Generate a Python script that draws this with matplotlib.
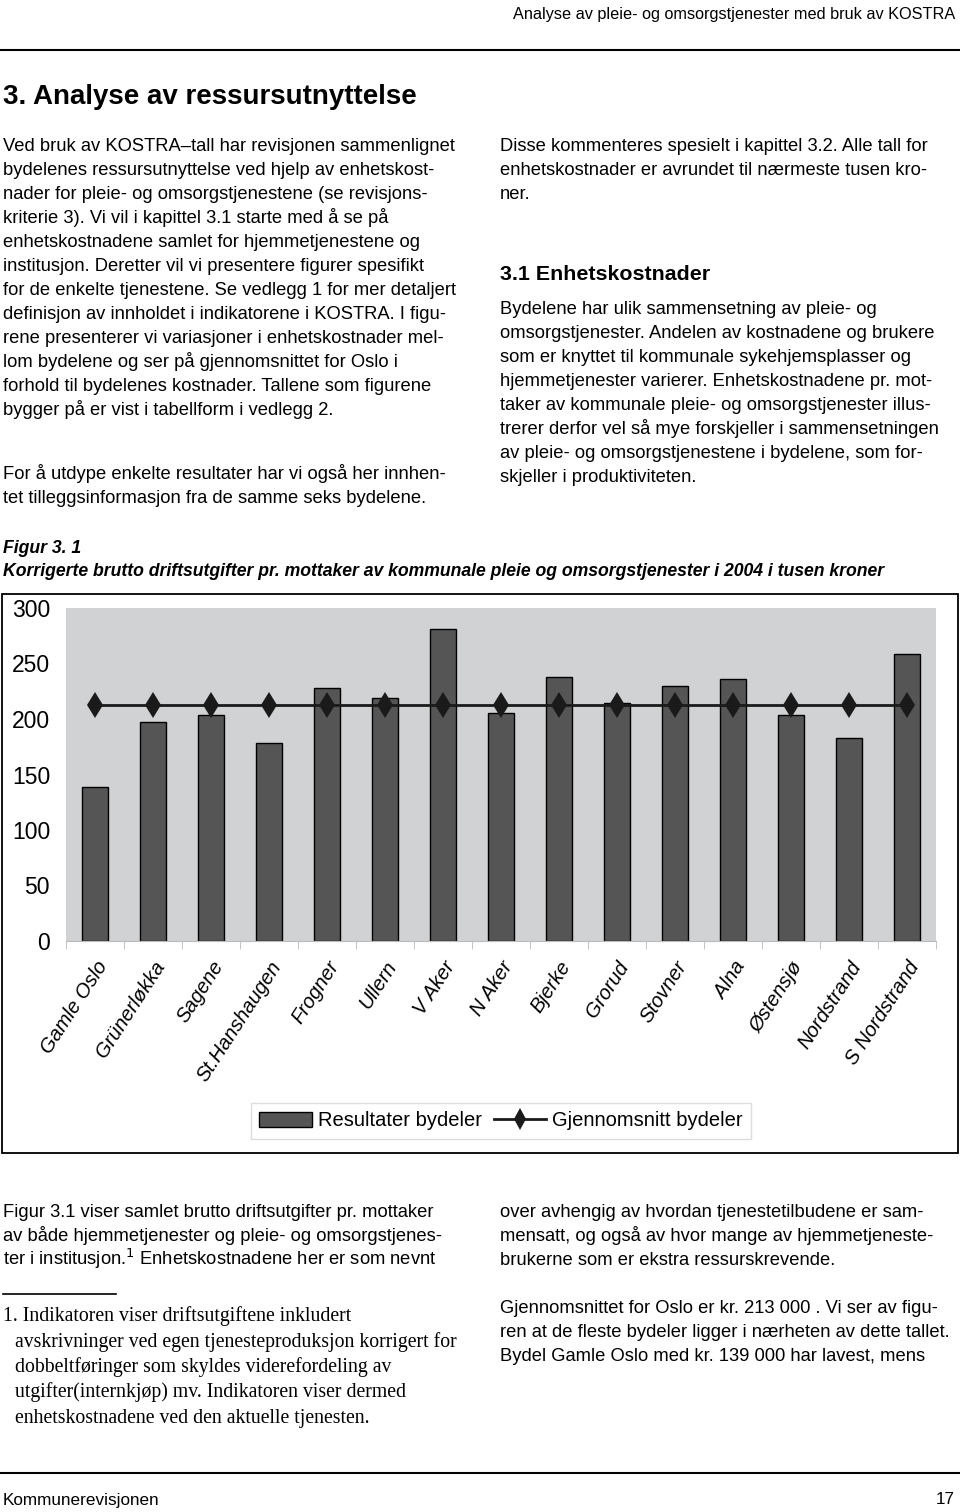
import matplotlib
matplotlib.use("Agg")
import matplotlib.pyplot as plt
import numpy as np
from matplotlib import font_manager as fm
from matplotlib.patches import Rectangle, Patch
from matplotlib.lines import Line2D

# fonts: narrow sans if installed, otherwise plain
names = {f.name for f in fm.fontManager.ttflist}
NARROW = 'Liberation Sans Narrow' if 'Liberation Sans Narrow' in names else 'Liberation Sans'
SERIF = 'Liberation Serif'

# data
bydeler = ['Gamle Oslo', 'Grünerløkka', 'Sagene', 'St.Hanshaugen', 'Frogner', 'Ullern',
           'V Aker', 'N Aker', 'Bjerke', 'Grorud', 'Stovner', 'Alna', 'Østensjø',
           'Nordstrand', 'S Nordstrand']
resultater = [139, 197, 204, 178, 228, 219, 281, 205, 238, 214, 230, 236, 204, 183, 259]
snitt = 213
yticks = [0, 50, 100, 150, 200, 250, 300]

W, H = 960, 1512
fig = plt.figure(figsize=(W / 100, H / 100), dpi=100, facecolor='white')
BODY = 13.2


def txt(x, y, s, size=BODY, va='center', **kw):
    kw.setdefault('family', NARROW)
    fig.text(x / W, 1 - y / H, s, fontsize=size, va=va, **kw)


def line(x, y, s, size=BODY, **kw):
    # paragraph line, y = visual middle of the line -> put the baseline a bit lower
    txt(x, y + 5, s, size, va='baseline', **kw)


def hline(x0, x1, y, lw=1.5, color='black'):
    fig.add_artist(Line2D([x0 / W, x1 / W], [1 - y / H, 1 - y / H], color=color, lw=lw))


# header / footer
txt(955, 14, 'Analyse av pleie- og omsorgstjenester med bruk av KOSTRA', 11.7, ha='right')
hline(0, 960, 50)
txt(3, 97, '3. Analyse av ressursutnyttelse', 20, weight='bold')
hline(0, 960, 1473)
txt(3, 1500, 'Kommunerevisjonen', 12.3)
txt(955, 1500, '17', 12.3, ha='right')

# left column top
venstre = [
    'Ved bruk av KOSTRA\u2013tall har revisjonen sammenlignet',
    'bydelenes ressursutnyttelse ved hjelp av enhetskost-',
    'nader for pleie- og omsorgstjenestene (se revisjons-',
    'kriterie 3). Vi vil i kapittel 3.1 starte med å se på',
    'enhetskostnadene samlet for hjemmetjenestene og',
    'institusjon. Deretter vil vi presentere figurer spesifikt',
    'for de enkelte tjenestene. Se vedlegg 1 for mer detaljert',
    'definisjon av innholdet i indikatorene i KOSTRA. I figu-',
    'rene presenterer vi variasjoner i enhetskostnader mel-',
    'lom bydelene og ser på gjennomsnittet for Oslo i',
    'forhold til bydelenes kostnader. Tallene som figurene',
    'bygger på er vist i tabellform i vedlegg 2.',
]
for i, s in enumerate(venstre):
    line(3, 146 + 24 * i, s)
line(3, 474, 'For å utdype enkelte resultater har vi også her innhen-')
line(3, 498, 'tet tilleggsinformasjon fra de samme seks bydelene.')

# right column top
hoyre = [
    'Disse kommenteres spesielt i kapittel 3.2. Alle tall for',
    'enhetskostnader er avrundet til nærmeste tusen kro-',
    'ner.',
]
for i, s in enumerate(hoyre):
    line(500, 146 + 24 * i, s)
line(500, 275, '3.1 Enhetskostnader', 15.4, weight='bold')
hoyre2 = [
    'Bydelene har ulik sammensetning av pleie- og',
    'omsorgstjenester. Andelen av kostnadene og brukere',
    'som er knyttet til kommunale sykehjemsplasser og',
    'hjemmetjenester varierer. Enhetskostnadene pr. mot-',
    'taker av kommunale pleie- og omsorgstjenester illus-',
    'trerer derfor vel så mye forskjeller i sammensetningen',
    'av pleie- og omsorgstjenestene i bydelene, som for-',
    'skjeller i produktiviteten.',
]
for i, s in enumerate(hoyre2):
    line(500, 309 + 24 * i, s)

# figure caption
line(3, 548, 'Figur 3. 1', 12.7, weight='bold', style='italic')
line(3, 571, 'Korrigerte brutto driftsutgifter pr. mottaker av kommunale pleie og '
     'omsorgstjenester i 2004 i tusen kroner', 12.7, weight='bold', style='italic')

# chart frame
fig.add_artist(Rectangle((2 / W, 1 - 1153 / H), 956 / W, 559 / H, transform=fig.transFigure,
                         fill=False, edgecolor='black', lw=1.3))

ax = fig.add_axes([66 / W, 1 - 941 / H, 870 / W, 333 / H])
ax.set_facecolor('#d0d2d4')
x = np.arange(len(bydeler))
ax.bar(x, resultater, width=0.45, color='#555555', edgecolor='black', lw=1.0, zorder=2)
ax.plot(x, [snitt] * len(x), color='#1a1a1a', lw=2, marker='d', markersize=13,
        markeredgewidth=0, zorder=3)
ax.set_xlim(-0.5, len(x) - 0.5)
ax.set_ylim(0, 300)
for s in ['top', 'right', 'left']:
    ax.spines[s].set_visible(False)
ax.spines['bottom'].set_color('#bbbbbb')
ax.set_yticks(yticks)
ax.set_yticklabels([str(v) for v in yticks], fontsize=16.5, family=NARROW)
ax.tick_params(axis='y', length=0, pad=11.5)
ax.set_xticks(x)
ax.set_xticklabels(bydeler, rotation=57, ha='right', va='top', rotation_mode='anchor',
                   fontsize=14.5, family=NARROW, style='italic')
ax.tick_params(axis='x', length=0, pad=12)
ax.set_xticks(np.arange(len(x) + 1) - 0.5, minor=True)
ax.tick_params(axis='x', which='minor', length=6, color='#bbbbbb')

handles = [Patch(facecolor='#555555', edgecolor='black'),
           Line2D([], [], color='#1a1a1a', lw=2, marker='d', markersize=11, markeredgewidth=0)]
leg = fig.legend(handles, ['Resultater bydeler', 'Gjennomsnitt bydeler'], loc='center',
                 bbox_to_anchor=(501 / W, 1 - 1121 / H), ncol=2, fancybox=False,
                 prop={'family': NARROW, 'size': 14.5}, handlelength=2.6, handletextpad=0.3,
                 columnspacing=0.6, borderpad=0.4, framealpha=1)
leg.get_frame().set_edgecolor('#dddddd')

# lower text
nede_v = [
    'Figur 3.1 viser samlet brutto driftsutgifter pr. mottaker',
    'av både hjemmetjenester og pleie- og omsorgstjenes-',
    'ter i institusjon.$^1$ Enhetskostnadene her er som nevnt',
]
for i, s in enumerate(nede_v):
    line(3, 1212 + 24 * i, s)
hline(3, 116, 1294, lw=1.2)
fotnote = [
    '1. Indikatoren viser driftsutgiftene inkludert',
    'avskrivninger ved egen tjenesteproduksjon korrigert for',
    'dobbeltføringer som skyldes viderefordeling av',
    'utgifter(internkjøp) mv. Indikatoren viser dermed',
    'enhetskostnadene ved den aktuelle tjenesten.',
]
for i, s in enumerate(fotnote):
    line(3 if i == 0 else 15, 1316 + 25.5 * i, s, 14.2, family=SERIF)

nede_h = [
    'over avhengig av hvordan tjenestetilbudene er sam-',
    'mensatt, og også av hvor mange av hjemmetjeneste-',
    'brukerne som er ekstra ressurskrevende.',
]
for i, s in enumerate(nede_h):
    line(500, 1212 + 24 * i, s)
nede_h2 = [
    'Gjennomsnittet for Oslo er kr. 213 000 . Vi ser av figu-',
    'ren at de fleste bydeler ligger i nærheten av dette tallet.',
    'Bydel Gamle Oslo med kr. 139 000 har lavest, mens',
]
for i, s in enumerate(nede_h2):
    line(500, 1308 + 24 * i, s)

fig.savefig('out.png', dpi=100, facecolor='white')
